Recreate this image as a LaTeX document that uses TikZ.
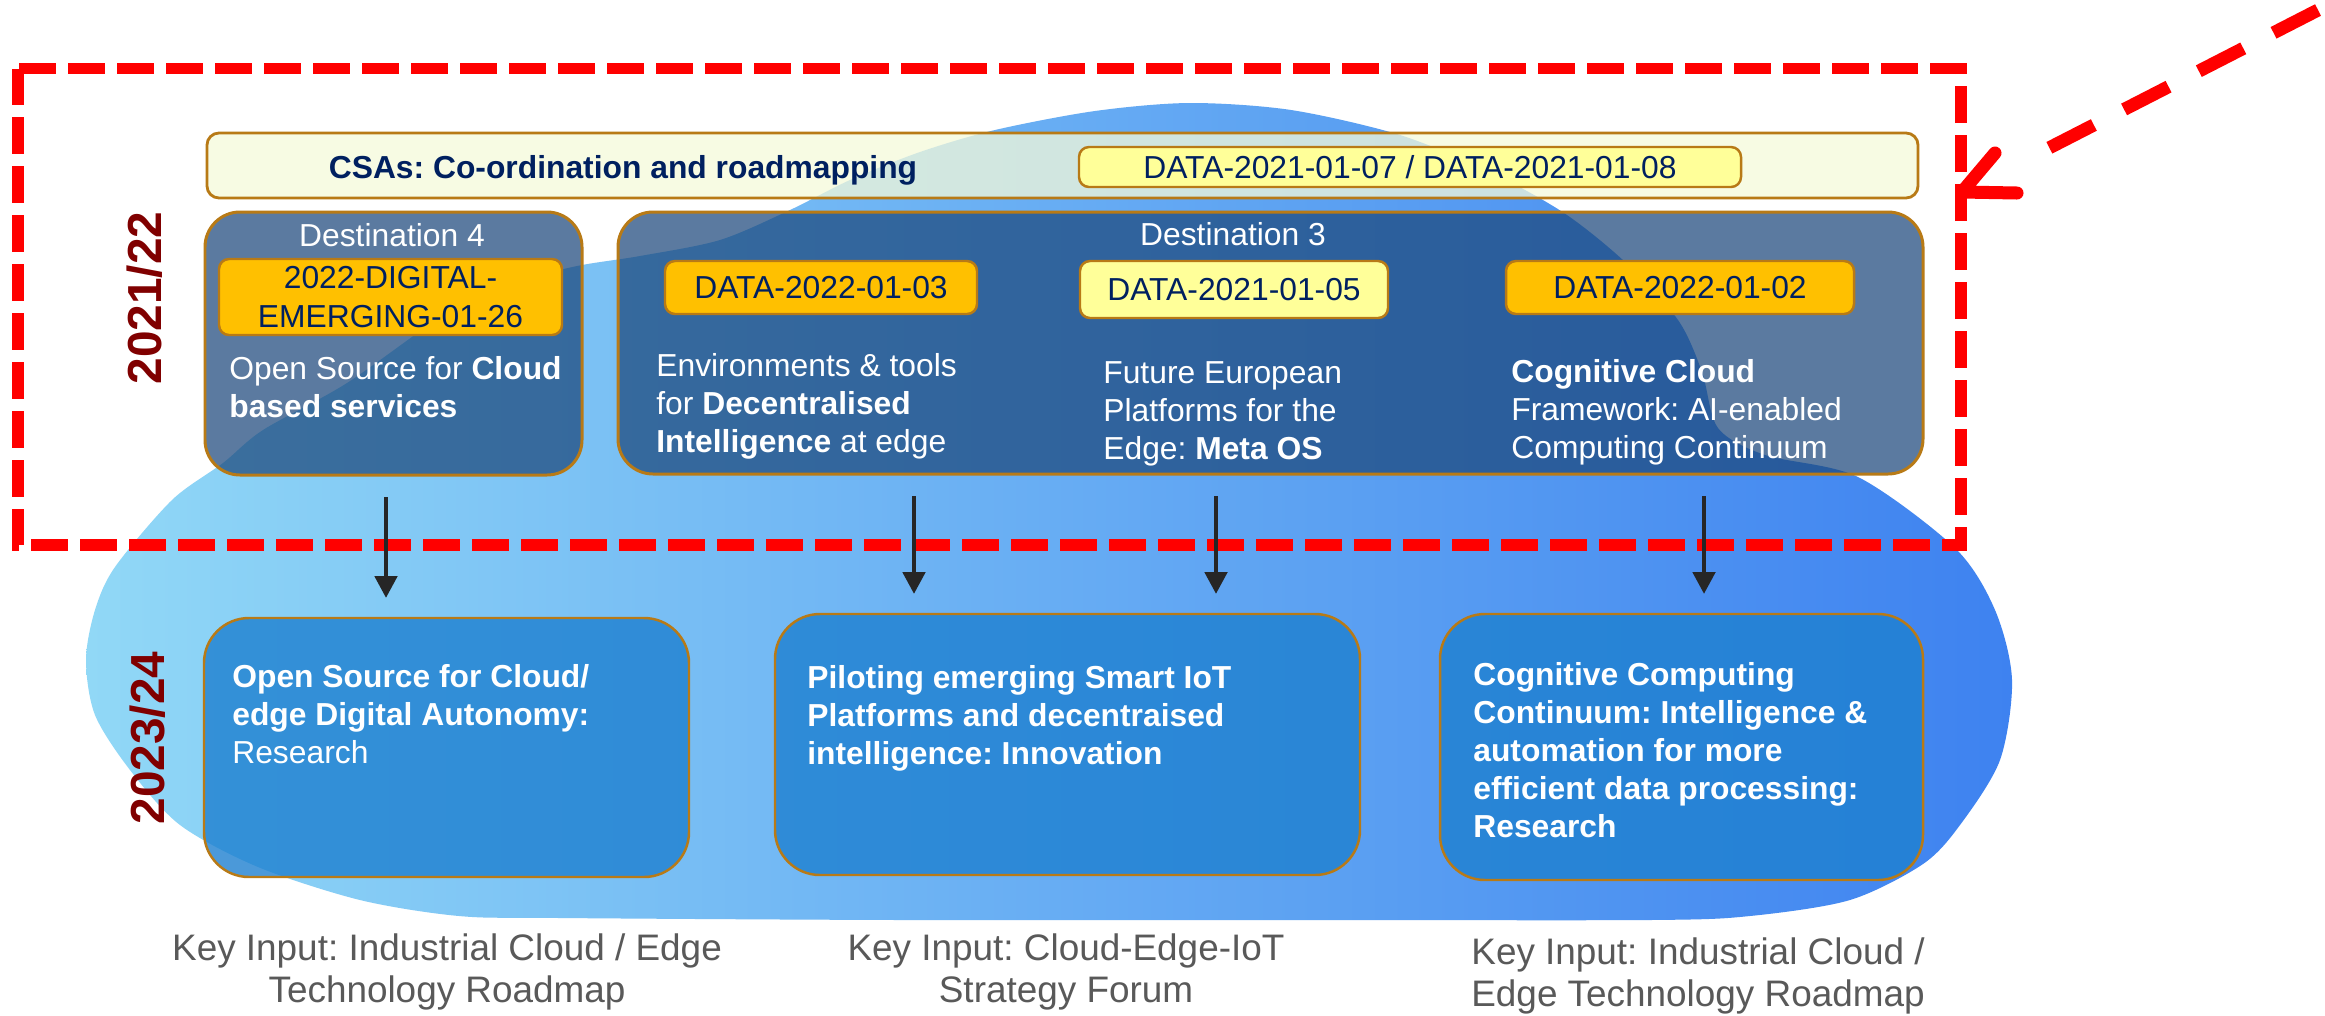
\documentclass[tikz,border=0pt]{standalone}
\usepackage{fontspec}
\setmainfont{Liberation Sans}
\usetikzlibrary{arrows.meta}
\frenchspacing
\definecolor{navy}{RGB}{0,32,96}
\definecolor{tagorange}{RGB}{255,192,0}
\definecolor{tagyellow}{RGB}{255,255,153}
\definecolor{bordbrown}{RGB}{184,122,22}
\definecolor{destfill}{RGB}{28,72,124}
\definecolor{lowfill}{RGB}{30,128,208}
\definecolor{csafill}{RGB}{245,250,218}
\definecolor{blobleft}{RGB}{145,216,246}
\definecolor{blobright}{RGB}{62,130,240}
\definecolor{yearred}{RGB}{128,0,0}
\definecolor{keygray}{RGB}{89,89,89}
\definecolor{arrowgray}{RGB}{38,38,38}
\definecolor{framered}{RGB}{255,0,0}
\newcommand\boxfont{\fontsize{18.1}{21.7}\selectfont}
\newcommand\tagfont{\fontsize{18.1}{22.2}\selectfont}
\newcommand\keyfont{\fontsize{21}{23.9}\selectfont}
\newcommand\yearfont{\fontsize{27.2}{30}\selectfont\bfseries}
\newcommand\fst{\rule{0pt}{14.5pt}}
\newcommand\kst{\rule{0pt}{16.8pt}}
\newcommand\placebox[6]{\node[#2, minimum width={(#5-#3)*0.02cm}, minimum height={(#6-#4)*0.02cm}] (#1) at ({(#3+#5)/2},{(#4+#6)/2})}
\tikzset{
  destbox/.style={draw=bordbrown, line width=1.7pt, fill=destfill, fill opacity=0.72, rounded corners=0.7cm, inner sep=0pt, outer sep=0pt},
  lowbox/.style={draw=bordbrown, line width=1.4pt, fill=lowfill, fill opacity=0.8, rounded corners=0.9cm, inner sep=0pt, outer sep=0pt},
  csabar/.style={draw=bordbrown, line width=1.6pt, fill=csafill, fill opacity=0.75, rounded corners=0.24cm, inner sep=0pt, outer sep=0pt},
  tagbox/.style={draw=bordbrown, line width=1.4pt, rounded corners=0.2cm, inner sep=0pt, outer sep=0pt, text=navy, font=\tagfont, align=center},
  orangetag/.style={tagbox, fill=tagorange},
  yellowtag/.style={tagbox, fill=tagyellow},
  boxtxt/.style={text=white, font=\boxfont, align=left, anchor=north west, inner sep=0pt},
  desttitle/.style={text=white, font=\boxfont, anchor=base, inner sep=0pt},
  csatxt/.style={text=navy, font=\boxfont\bfseries, anchor=base, inner sep=0pt},
  yeartxt/.style={text=yearred, font=\yearfont, rotate=90, inner sep=0pt},
  keytxt/.style={text=keygray, font=\keyfont, align=center, anchor=north, inner sep=0pt},
  blkarrow/.style={draw=arrowgray, line width=2.8pt, -{Triangle[length=0.44cm, width=0.44cm]}, shorten <=0.44cm, shorten >=0.4cm},
  redframe/.style={draw=framered, line width=6.5pt, dash pattern=on 0.74cm off 0.24cm, line join=miter},
  redline/.style={draw=framered, line width=7.4pt}
}
\begin{document}
\begin{tikzpicture}[x=0.02cm, y=-0.02cm]
\useasboundingbox (0,0) rectangle (2325,1015);
\fill[white] (0,0) rectangle (2325,1015);
% blue blob
\shade[left color=blobleft, right color=blobright]
  plot[smooth cycle, tension=0.5] coordinates {
  (1190,103) (1291,110) (1400,135) (1490,172) (1564,213) (1625,262) (1678,320) (1702,372) (1718,428)
  (1765,455) (1858,477) (1955,548) (1995,610) (2012,680) (2000,760) (1960,825) (1923,864)
  (1850,900) (1750,916) (1650,920) (1300,920) (900,920) (560,918) (459,916) (360,900)
  (258,867) (180,825) (130,770) (95,715) (86,660) (95,610) (115,567) (172,500) (223,463)
  (263,430) (347,383) (447,313) (513,283) (577,266) (640,256) (720,240) (790,210)
  (850,180) (920,152) (995,130) (1095,111)};
% CSA bar
\placebox{csa}{csabar}{207}{133}{1918}{198} {};
\node[csatxt] (csat) at (623,178) {CSAs: Co-ordination and roadmapping};
\placebox{csatag}{yellowtag}{1079}{147}{1741}{187} {DATA-2021-01-07 / DATA-2021-01-08};
% destination boxes
\placebox{d4}{destbox}{205}{212}{582}{475} {};
\placebox{d3}{destbox}{618}{212}{1923}{474} {};
\node[desttitle] (d4t) at (392,246) {Destination 4};
\node[desttitle] (d3t) at (1233,245) {Destination 3};
\placebox{tg1}{orangetag}{219}{259}{562}{335} {2022-DIGITAL-\\EMERGING-01-26};
\placebox{tg2}{orangetag}{665}{261}{977}{314} {DATA-2022-01-03};
\placebox{tg3}{yellowtag}{1080}{261}{1388}{318} {DATA-2021-01-05};
\placebox{tg4}{orangetag}{1506}{261}{1854}{314} {DATA-2022-01-02};
\node[boxtxt] (d4x) at (229,353.5) {\fst Open Source for \textbf{Cloud}\\\textbf{based services}};
\node[boxtxt] (d3a) at (656,350.5) {\fst Environments \& tools\\for \textbf{Decentralised}\\\textbf{Intelligence} at edge};
\node[boxtxt] (d3b) at (1103,357.5) {\fst Future European\\Platforms for the\\Edge: \textbf{Meta OS}};
\node[boxtxt] (d3c) at (1511,356.5) {\fst\textbf{Cognitive Cloud}\\Framework: AI-enabled\\Computing Continuum};
% lower boxes
\placebox{low1}{lowbox}{204}{618}{689}{877} {};
\placebox{low2}{lowbox}{775}{614}{1360}{875} {};
\placebox{low3}{lowbox}{1440}{614}{1923}{880} {};
\node[boxtxt] (l1x) at (232,661.5) {\fst\textbf{Open Source for Cloud/}\\\textbf{edge Digital Autonomy:}\\Research};
\node[boxtxt, font=\boxfont\bfseries] (l2x) at (807,662.5) {\fst Piloting emerging Smart IoT\\Platforms and decentraised\\intelligence: Innovation};
\node[boxtxt, font=\boxfont\bfseries] (l3x) at (1473,659.5) {\fst Cognitive Computing\\Continuum: Intelligence \&\\automation for more\\efficient data processing:\\Research};
% year labels
\node[yeartxt] (y1) at (145,298) {2021/22};
\node[yeartxt] (y2) at (148,738) {2023/24};
% red dashed frame
\draw[redframe] (18,68.5) rectangle (1961,545);
% black arrows
\coordinate (ax1) at (386,0);
\coordinate (ax2) at (914,0);
\coordinate (ax3) at (1216,0);
\coordinate (ax4) at (1704,0);
\draw[blkarrow] (d4.south -| ax1) -- (low1.north -| ax1);
\draw[blkarrow] (d3.south -| ax2) -- (low2.north -| ax2);
\draw[blkarrow] (d3.south -| ax3) -- (low2.north -| ax3);
\draw[blkarrow] (d3.south -| ax4) -- (low3.north -| ax4);
% red pointer arrow
\coordinate (rs) at (2318,10);
\coordinate (re) at (2045,150);
\coordinate (rt) at (1962,192);
\coordinate (rh1) at (1995,153);
\coordinate (rh2) at (2017,193);
\draw[redline, dash pattern=on 1.0cm off 0.68cm] (rs) -- (re);
\draw[redline, line cap=round, line join=round] (rh1) -- (rt) -- (rh2);
% key inputs
\node[keytxt] (k1) at (447,930.5) {\kst Key Input: Industrial Cloud / Edge\\Technology Roadmap};
\node[keytxt] (k2) at (1066,930.5) {\kst Key Input: Cloud-Edge-IoT\\Strategy Forum};
\node[keytxt] (k3) at (1698,934.5) {\kst Key Input: Industrial Cloud /\\Edge Technology Roadmap};
\end{tikzpicture}
\end{document}
